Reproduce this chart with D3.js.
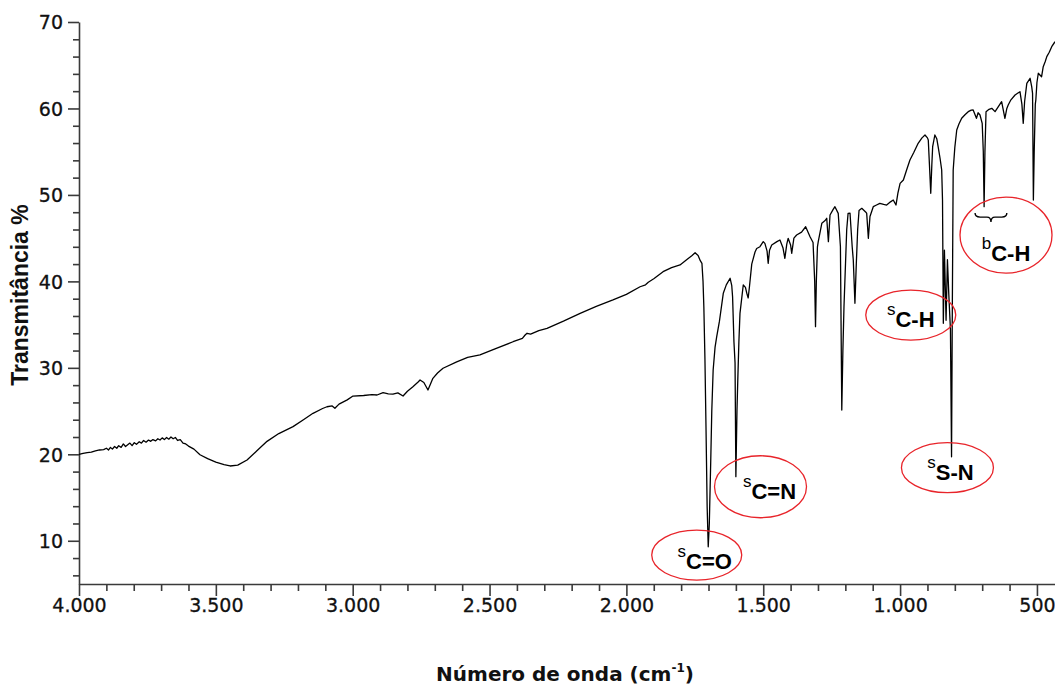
<!DOCTYPE html>
<html>
<head>
<meta charset="utf-8">
<script src="https://cdn.jsdelivr.net/npm/d3@7"></script>
<style>
  html, body { margin: 0; padding: 0; background: #fff; }
  svg { display: block; }
</style>
</head>
<body>
<svg id="chart" width="1055" height="688"></svg>
<script>
// ---------------- DATA ----------------
const wavenumbers = [
  4000,3985,3970,3955,3940,3925,3910,3900,3892,3885,3878,3870,3862,3855,3846,3838,3830,3822,3814,3806,
  3798,3790,3780,3772,3764,3755,3746,3738,3730,3720,3712,3704,3696,3688,3680,3672,3664,3656,3648,3640,
  3630,3620,3610,3600,3580,3558,3530,3500,3470,3448,3420,3386,3350,3313,3270,3218,3180,3145,3110,3094,
  3075,3065,3050,3020,2999,2960,2930,2911,2889,2870,2853,2835,2816,2800,2780,2760,2754,2740,2725,2715,
  2707,2690,2670,2620,2580,2535,2480,2414,2380,2370,2363,2350,2320,2290,2230,2169,2110,2049,2000,1950,
  1930,1920,1900,1866,1835,1804,1780,1760,1749,1738,1730,1724,1720,1717,1713,1709,1705,1701,1697,1692,
  1688,1683,1676,1670,1660,1646,1635,1621,1615,1612,1607,1603,1600,1596,1593,1589,1585,1573,1565,1560,
  1555,1550,1542,1530,1524,1512,1500,1494,1486,1482,1477,1469,1450,1439,1428,1421,1414,1409,1400,1396,
  1388,1378,1360,1345,1335,1329,1318,1312,1309,1306,1302,1299,1286,1275,1268,1262,1256,1245,1238,1226,
  1218,1213,1209,1205,1195,1190,1183,1175,1171,1165,1160,1155,1150,1140,1125,1122,1116,1110,1098,1086,
  1074,1060,1049,1035,1025,1015,1008,1000,988,975,964,950,934,920,909,900,897,892,888,884,
  881,873,866,861,854,848,845,842,838,832,827,822,816,812,809,806,800,793,785,775,
  762,751,740,733,721,715,708,700,696,693,690,686,675,665,653,641,629,617,610,605,
  595,580,562,555,550,545,537,525,519,516,513,510,506,504,500,495,490,483,477,470,
  464,455,446,434
];
const transmittance = [
  20.0,20.1,20.2,20.25,20.4,20.5,20.55,20.7,20.5,20.8,20.6,20.9,20.7,21.0,20.8,21.2,20.9,21.1,21.3,21.0,
  21.35,21.15,21.45,21.3,21.6,21.4,21.65,21.5,21.7,21.55,21.8,21.65,21.9,21.7,21.95,21.75,22.0,21.8,21.95,21.6,
  21.7,21.3,21.2,20.95,20.6,19.95,19.5,19.1,18.8,18.65,18.75,19.34,20.4,21.5,22.4,23.2,24.0,24.74,25.3,25.5,
  25.6,25.32,25.8,26.3,26.74,26.8,26.9,26.86,27.13,27.0,26.97,27.1,26.74,27.3,27.82,28.4,28.59,28.3,27.44,28.2,
  28.79,29.4,29.95,30.7,31.2,31.49,32.2,33.02,33.4,33.8,34.0,33.9,34.3,34.57,35.4,36.3,37.1,37.85,38.5,39.38,
  39.6,39.9,40.3,41.12,41.6,41.9,42.5,43.0,43.32,43.0,42.4,42.09,40.0,37.07,31.0,22.81,14.0,9.31,12.0,19.0,
  25.0,29.75,32.4,33.6,35.4,38.62,39.6,40.36,39.5,38.23,33.0,30.56,17.41,25.0,28.59,33.0,36.3,39.58,39.3,38.62,
  38.08,39.5,42.0,43.4,43.8,44.01,44.6,44.4,43.5,42.09,43.6,44.21,44.6,44.79,43.9,42.67,44.3,44.98,44.2,43.25,
  45.0,45.36,45.7,46.32,45.6,45.17,44.5,40.0,34.76,40.0,44.0,44.59,46.72,47.0,47.3,44.59,47.68,48.3,48.64,47.87,
  44.0,25.12,32.0,37.07,46.0,47.87,47.9,44.0,42.47,37.46,42.0,46.0,48.2,48.45,48.0,47.87,44.98,47.5,48.64,48.83,
  49.03,48.9,48.83,49.2,49.41,48.83,50.2,51.34,51.73,53.0,54.04,54.9,55.97,56.6,56.93,56.6,56.35,53.0,50.19,53.5,
  55.58,56.93,56.5,55.58,54.24,52.88,49.41,35.15,43.6,35.5,42.5,38.5,34.4,19.72,37.8,52.88,55.5,57.51,58.2,58.86,
  59.3,59.63,59.8,59.82,58.86,59.5,59.24,58.28,55.0,48.64,55.0,59.63,59.9,60.02,59.63,60.2,60.78,58.86,60.0,60.4,
  61.0,61.56,61.94,60.5,58.28,60.8,62.91,63.49,62.5,61.75,49.41,55.0,60.5,61.0,63.0,64.07,63.9,63.67,64.83,65.4,
  65.99,66.5,67.14,67.72
];
const xMajorTicks = [4000,3500,3000,2500,2000,1500,1000,500];
const yMajorTicks = [10,20,30,40,50,60,70];
const xLabel = "Número de onda (cm";
const xLabelSup = "-1";
const yLabel = "Transmitância %";
// annotation: superscript, label, anchor wavenumber, anchor transmittance
const annotations = [
  {sup: "s", label: "C=O", wn: 1743, t: 8.35},
  {sup: "s", label: "C=N", wn: 1510, t: 16.25},
  {sup: "s", label: "C-H", wn: 961,  t: 36.1},
  {sup: "s", label: "S-N", wn: 827,  t: 18.45},
  {sup: "b", label: "C-H", wn: 613,  t: 45.36}
];
const braceRange = [726, 610, 47.9]; // wn from, wn to, transmittance at top

// ---------------- CHART ----------------
const svg = d3.select("#chart");
const x = d3.scaleLinear().domain([4000, 434]).range([79, 1055]);
const y = d3.scaleLinear().domain([5, 70]).range([584, 22]);

const locale = d3.formatLocale({decimal: ",", thousands: ".", grouping: [3], currency: ["", ""]});
const fmt = locale.format(",");

const axisColor = "#3a3a3a";
const tickFont = "'DejaVu Sans', Verdana, sans-serif";

// minor ticks
const xMinor = d3.range(4000, 433, -100).filter(v => v % 500 !== 0);
const yMinor = d3.range(6, 71, 2).filter(v => v % 10 !== 0);

const gx = svg.append("g").attr("transform", `translate(0,${y(5)})`);
gx.call(d3.axisBottom(x).tickValues(xMinor).tickSize(7).tickSizeOuter(0).tickFormat(""));
gx.call(g => g.select(".domain").remove());
const gx2 = svg.append("g").attr("transform", `translate(0,${y(5)})`);
gx2.call(d3.axisBottom(x).tickValues(xMajorTicks).tickSize(12).tickSizeOuter(0).tickFormat(fmt).tickPadding(3));

const gy = svg.append("g").attr("transform", `translate(${x(4000)},0)`);
gy.call(d3.axisLeft(y).tickValues(yMinor).tickSize(6).tickSizeOuter(0).tickFormat(""));
gy.call(g => g.select(".domain").remove());
const gy2 = svg.append("g").attr("transform", `translate(${x(4000)},0)`);
gy2.call(d3.axisLeft(y).tickValues(yMajorTicks).tickSize(11).tickSizeOuter(0).tickPadding(5));

svg.selectAll(".domain, .tick line").attr("stroke", axisColor).attr("stroke-width", 1.6);
svg.selectAll(".tick text")
  .attr("font-family", tickFont)
  .attr("font-size", 19)
  .attr("fill", "#111")
  .attr("stroke", "#111")
  .attr("stroke-width", 0.3);
gy2.selectAll(".tick text").attr("dy", "0.36em");

// spectrum line
const pts = wavenumbers.map((w, i) => [w, transmittance[i]]);
const line = d3.line().x(d => x(d[0])).y(d => y(d[1]));
svg.append("path")
  .datum(pts)
  .attr("d", line)
  .attr("fill", "none")
  .attr("stroke", "#000")
  .attr("stroke-width", 1.3)
  .attr("stroke-linejoin", "round");

// axis titles
const xt = svg.append("text")
  .attr("x", 565).attr("y", 681)
  .attr("text-anchor", "middle")
  .attr("font-family", tickFont)
  .attr("font-weight", "bold")
  .attr("font-size", 20)
  .attr("fill", "#111");
xt.append("tspan").text(xLabel);
xt.append("tspan").text(xLabelSup).attr("font-size", 12).attr("dy", -9);
xt.append("tspan").text(")").attr("dy", 9);

svg.append("text")
  .attr("transform", `translate(28,295) rotate(-90)`)
  .attr("text-anchor", "middle")
  .attr("font-family", "'Liberation Sans', Arial, sans-serif")
  .attr("font-weight", "bold")
  .attr("font-size", 23)
  .attr("fill", "#111")
  .text(yLabel);

// annotations
const ellSize = [[45, 25], [46, 31], [45, 25], [46, 25], [46, 38]];
const txtOff = [[8, 14], [9, 12], [0, 12], [3, 12], [0, 26]];
const ag = svg.append("g");
annotations.forEach((a, i) => {
  const cx = x(a.wn), cy = y(a.t);
  ag.append("ellipse")
    .attr("cx", cx).attr("cy", cy)
    .attr("rx", ellSize[i][0]).attr("ry", ellSize[i][1])
    .attr("fill", "none").attr("stroke", "#e8242a").attr("stroke-width", 1.3);
  const t = ag.append("text")
    .attr("x", cx + txtOff[i][0]).attr("y", cy + txtOff[i][1])
    .attr("text-anchor", "middle")
    .attr("font-family", "'Liberation Sans', Arial, sans-serif")
    .attr("fill", "#000");
  t.append("tspan").text(a.sup).attr("font-size", 17).attr("dy", -12);
  t.append("tspan").text(a.label).attr("font-size", 22).attr("font-weight", "bold").attr("dy", 12);
});

// brace for bending C-H
const bx1 = x(braceRange[0]), bx2 = x(braceRange[1]), by = y(braceRange[2]);
const bm = (bx1 + bx2) / 2;
ag.append("path")
  .attr("d", `M${bx1},${by} Q${bx1},${by + 4} ${bx1 + 5},${by + 4} L${bm - 4},${by + 4} Q${bm},${by + 4} ${bm},${by + 9} Q${bm},${by + 4} ${bm + 4},${by + 4} L${bx2 - 5},${by + 4} Q${bx2},${by + 4} ${bx2},${by}`)
  .attr("fill", "none").attr("stroke", "#000").attr("stroke-width", 1.4);
</script>
</body>
</html>
